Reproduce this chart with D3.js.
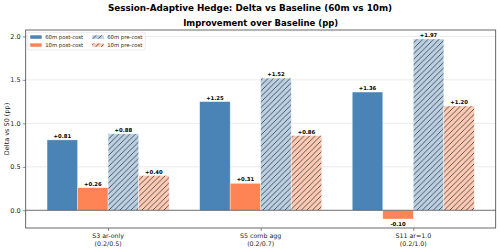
<!DOCTYPE html>
<html><head><meta charset="utf-8">
<script src="https://cdn.jsdelivr.net/npm/d3@7"></script>
<style>body{margin:0;background:#fff}svg{display:block;font-family:"DejaVu Sans",sans-serif}</style>
</head><body><svg id="c" width="500" height="249"></svg>
<script>
const categories = ["S3 ar-only\n(0.2/0.5)", "S5 comb agg\n(0.2/0.7)", "S11 ar=1.0\n(0.2/1.0)"];
const post60 = [0.81, 1.25, 1.36];
const post10 = [0.26, 0.31, -0.10];
const pre60 = [0.88, 1.52, 1.97];
const pre10 = [0.40, 0.86, 1.20];
const seriesNames = ["60m post-cost", "10m post-cost", "60m pre-cost", "10m pre-cost"];
const yTicks = [0.0, 0.5, 1.0, 1.5, 2.0];

const series = [
  {name: seriesNames[0], vals: post60, fill: "#4a84b6", hatch: false},
  {name: seriesNames[1], vals: post10, fill: "#ff8455", hatch: false},
  {name: seriesNames[2], vals: pre60, fill: "#b9d0e5", hatch: true},
  {name: seriesNames[3], vals: pre10, fill: "#ffcbb5", hatch: true}
];

const svg = d3.select("#c");
const L = 25.7, R = 495.7, T = 30, B = 228;
const barW = 0.2;
const x = d3.scaleLinear().domain([-0.54, 2.54]).range([L, R]);
const y = d3.scaleLinear().domain([-0.2035, 2.0735]).range([B, T]);

const defs = svg.append("defs");
series.forEach((s, i) => {
  if (!s.hatch) return;
  const p = defs.append("pattern").attr("id", "h" + i).attr("patternUnits", "userSpaceOnUse")
    .attr("width", 5.5).attr("height", 5.5);
  p.append("rect").attr("width", 5.5).attr("height", 5.5).attr("fill", s.fill);
  p.append("path").attr("d", "M-1,6.5 L6.5,-1 M-1,1 L1,-1 M4.5,6.5 L6.5,4.5")
    .attr("stroke", "#333").attr("stroke-width", 0.8);
});

// title
svg.append("text").attr("x", 250).attr("y", 10.5).attr("text-anchor", "middle")
  .attr("font-size", 8.8).attr("font-weight", "bold").text("Session-Adaptive Hedge: Delta vs Baseline (60m vs 10m)");
svg.append("text").attr("x", (L + R) / 2).attr("y", 26).attr("text-anchor", "middle")
  .attr("font-size", 8.5).attr("font-weight", "bold").text("Improvement over Baseline (pp)");

// grid
svg.append("g").selectAll("line").data(yTicks).join("line")
  .attr("x1", L).attr("x2", R).attr("y1", d => y(d)).attr("y2", d => y(d))
  .attr("stroke", "#e6e6e6").attr("stroke-width", 0.8);

// bars
series.forEach((s, i) => {
  const off = (i - 1.5) * barW;
  const g = svg.append("g");
  g.selectAll("rect").data(s.vals).join("rect")
    .attr("x", (d, j) => x(j + off - barW / 2))
    .attr("width", x(barW) - x(0))
    .attr("y", d => y(Math.max(0, d)))
    .attr("height", d => Math.abs(y(d) - y(0)))
    .attr("fill", s.hatch ? "url(#h" + i + ")" : s.fill)
    .attr("stroke", "#fff").attr("stroke-opacity", 0.6).attr("stroke-width", 0.6);
  g.selectAll("text").data(s.vals).join("text")
    .attr("x", (d, j) => x(j + off))
    .attr("y", d => d >= 0 ? y(d) - 2 : y(d) + 7)
    .attr("text-anchor", "middle").attr("font-size", 5.3).attr("font-weight", "bold")
    .text(d => (d >= 0 ? "+" : "") + d.toFixed(2));
});

// zero line
svg.append("line").attr("x1", L).attr("x2", R).attr("y1", y(0)).attr("y2", y(0))
  .attr("stroke", "#555").attr("stroke-width", 0.8);

// axes
const ya = svg.append("g").attr("transform", `translate(${L},0)`)
  .call(d3.axisLeft(y).tickValues(yTicks).tickFormat(d3.format(".1f")).tickSize(3).tickPadding(2));
ya.select(".domain").remove();
ya.selectAll("text").attr("font-size", 6.5).attr("fill", "#222").attr("font-family", "DejaVu Sans");
ya.selectAll("line").attr("stroke", "#444").attr("stroke-width", 0.6);

const xa = svg.append("g").attr("transform", `translate(0,${B})`)
  .call(d3.axisBottom(x).tickValues([0, 1, 2]).tickFormat("").tickSize(3));
xa.select(".domain").remove();
xa.selectAll("line").attr("stroke", "#444").attr("stroke-width", 0.6);
categories.forEach((c, j) => {
  const lines = c.split("\n");
  lines.forEach((ln, k) => {
    svg.append("text").attr("x", x(j)).attr("y", B + 10 + k * 7.5).attr("text-anchor", "middle")
      .attr("font-size", 6.3).attr("fill", "#222").text(ln);
  });
});

svg.append("rect").attr("x", L).attr("y", T).attr("width", R - L).attr("height", B - T)
  .attr("fill", "none").attr("stroke", "#444").attr("stroke-width", 0.8);

svg.append("text").attr("transform", `translate(9,${(T + B) / 2}) rotate(-90)`)
  .attr("text-anchor", "middle").attr("font-size", 6.5).attr("fill", "#222").text("Delta vs S0 (pp)");

// legend
const lg = svg.append("g").attr("transform", `translate(${L + 2},${T + 2.3})`);
lg.append("rect").attr("width", 117.5).attr("height", 17.7).attr("rx", 1.5).attr("fill", "#fff")
  .attr("fill-opacity", 0.8).attr("stroke", "#ddd").attr("stroke-width", 0.6);
series.forEach((s, i) => {
  const col = i < 2 ? 0 : 1, row = i % 2;
  const gx = 2.5 + col * 62, gy = 3 + row * 8;
  lg.append("rect").attr("x", gx).attr("y", gy).attr("width", 11.5).attr("height", 3.5)
    .attr("fill", s.hatch ? "url(#h" + i + ")" : s.fill);
  lg.append("text").attr("x", gx + 15).attr("y", gy + 3.8).attr("font-size", 5.3).attr("fill", "#222").text(s.name);
});
</script></body></html>
